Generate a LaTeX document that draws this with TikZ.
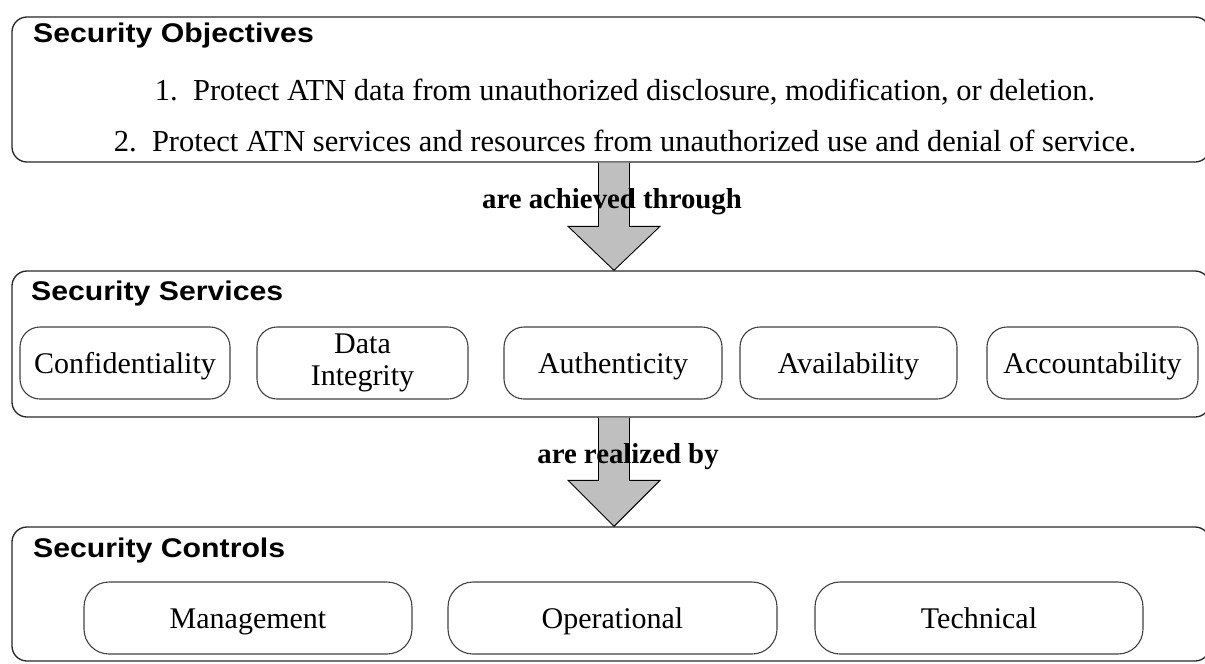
\documentclass[tikz,border=0pt]{standalone}
\usepackage{fontspec}
\setmainfont{Liberation Serif}
\newfontfamily\headfont[FakeStretch=1.12]{Liberation Sans}
\usetikzlibrary{calc}
\tikzset{
  layer/.style={draw=black!85, line width=1.3pt, rounded corners=15pt, inner sep=0pt},
  item/.style={draw=black!75, line width=1.1pt, rounded corners=20pt, inner sep=0pt,
    align=center, text height=20pt, text depth=0pt, font=\fontsize{30}{32}\selectfont},
  twoline/.style={text height=, text depth=},
  heading/.style={anchor=base west, inner sep=0pt, font=\headfont\bfseries\fontsize{27}{30}\selectfont},
  goal/.style={anchor=base, inner sep=0pt, font=\fontsize{30.5}{34}\selectfont},
  verb/.style={anchor=base, inner sep=0pt, font=\bfseries\fontsize{28.8}{32}\selectfont},
  blockarrow/.style={draw=black, line width=0.9pt, fill=black!25, line join=miter},
}
\begin{document}
\begin{tikzpicture}[x=1pt,y=-1pt]
\useasboundingbox (0,0) rectangle (1205,664);
\clip (0,0) rectangle (1205,664);

% the three layers
\node[layer, minimum width=1198pt, minimum height=145pt] (obj) at (611,89.5) {};
\node[layer, minimum width=1198pt, minimum height=146pt] (svc) at (611,344) {};
\node[layer, minimum width=1198pt, minimum height=134pt] (ctl) at (611,594) {};

% objectives
\node[heading] (objt) at (33,42) {Security Objectives};
\node[goal] (g1) at (625,100) {1.\ \ Protect ATN data from unauthorized disclosure, modification, or deletion.};
\node[goal] (g2) at (625,151) {2.\ \ Protect ATN services and resources from unauthorized use and denial of service.};

% services
\node[heading] (svct) at (31,300) {Security Services};
\node[item, minimum width=210pt, minimum height=72pt] (conf) at (125,363) {Confidentiality};
\node[item, twoline, minimum width=211pt, minimum height=72pt] (integ) at (362.5,363) {Data\\Integrity};
\node[item, minimum width=218pt, minimum height=72pt] (auth) at (613,363) {Authenticity};
\node[item, minimum width=217pt, minimum height=72pt] (avail) at (848.5,363) {Availability};
\node[item, minimum width=211pt, minimum height=72pt] (acct) at (1092.5,363) {Accountability};

% controls
\node[heading] (ctlt) at (33,557) {Security Controls};
\node[item, minimum width=328pt, minimum height=72pt, rounded corners=25pt] (mgmt) at (248,618) {Management};
\node[item, minimum width=329pt, minimum height=72pt, rounded corners=25pt] (oper) at (612.5,618) {Operational};
\node[item, minimum width=328pt, minimum height=72pt, rounded corners=25pt] (tech) at (979,618) {Technical};

% block arrows between the layers
\coordinate (a1s) at (obj.south -| 614,0);
\coordinate (a1e) at (svc.north -| 614,0);
\coordinate (a2s) at (svc.south -| 614,0);
\coordinate (a2e) at (ctl.north -| 614,0);
\draw[blockarrow] ($(a1s)+(-15.5,0)$) -- ($(a1e)+(-15.5,-44)$) -- ($(a1e)+(-46,-44)$)
  -- (a1e) -- ($(a1e)+(46,-44)$) -- ($(a1e)+(15.5,-44)$) -- ($(a1s)+(15.5,0)$);
\draw[blockarrow] ($(a2s)+(-15.5,0)$) -- ($(a2e)+(-15.5,-46)$) -- ($(a2e)+(-46,-46)$)
  -- (a2e) -- ($(a2e)+(46,-46)$) -- ($(a2e)+(15.5,-46)$) -- ($(a2s)+(15.5,0)$);

\node[verb] (v1) at (612,208) {are achieved through};
\node[verb] (v2) at (628,463) {are realized by};
\end{tikzpicture}
\end{document}
